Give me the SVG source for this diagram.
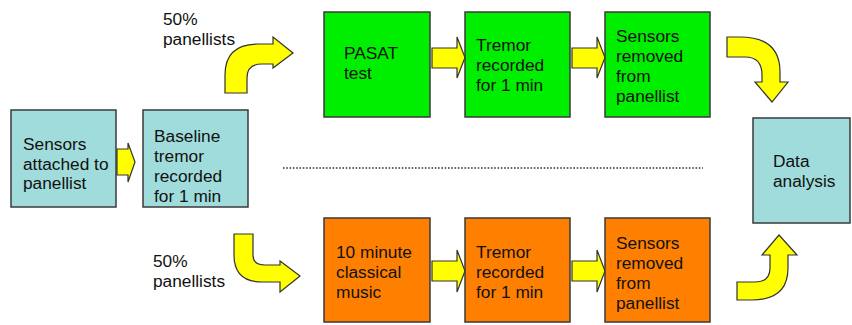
<svg xmlns="http://www.w3.org/2000/svg" width="852" height="325" viewBox="0 0 852 325">
  <style>
    .box { stroke: #3a3a3a; stroke-width: 1.5; }
    .teal { fill: #a0dcdc; }
    .green { fill: #00ee00; }
    .orange { fill: #ff8000; }
    .arrow { fill: #ffff00; stroke: #333333; stroke-width: 1.2; stroke-linejoin: miter; }
    text { font-family: "Liberation Sans", Arial, sans-serif; font-size: 17.3px; fill: #111111; }
    .dots { stroke: #333333; stroke-width: 1.6; stroke-dasharray: 1.6 1.7; fill: none; }
  </style>
  <rect width="852" height="325" fill="#ffffff"/>

  <!-- connectors: block arrows and the dotted separator -->
  <g id="connectors">
    <path class="arrow" d="M117,149 L128,149 L128,143 L135,162 L128,182 L128,175 L117,175 Z"/>
    <path class="arrow" d="M432,48 L457,48 L457,37 L465,57.5 L457,78 L457,68 L432,68 Z"/>
    <path class="arrow" d="M572,48 L597,48 L597,37 L605,57.5 L597,78 L597,68 L572,68 Z"/>
    <path class="arrow" d="M432,261 L457,261 L457,250 L465,271 L457,292 L457,281 L432,281 Z"/>
    <path class="arrow" d="M572,261 L597,261 L597,250 L605,271 L597,292 L597,281 L572,281 Z"/>
    <path class="arrow" d="M225,93 L225,75 Q225,44 258,44 L273,44 L273,37 L293,53 L273,68 L273,64 L262,64 Q247,64 247,78 L247,93 Z"/>
    <path class="arrow" d="M234,234 L253,234 L253,255 Q253,265 265,265 L280,265 L280,261 L300,276 L280,292 L280,282 L262,282 Q234,282 234,255 Z"/>
    <path class="arrow" d="M727,37 L740,37 Q780,37 780,72 L780,82 L788,82 L772,102 L755,82 L762,82 L762,75 Q762,57 745,57 L727,57 Z"/>
    <path class="arrow" d="M737,282 L755,282 Q770,282 770,268 L770,255 L762,255 L779,235 L797,255 L788,255 L788,268 Q788,300 752,300 L737,300 Z"/>
    <line class="dots" x1="283" y1="168" x2="703" y2="168"/>
  </g>

  <!-- branch labels -->
  <g id="label-top">
    <text x="163" y="25">50%</text>
    <text x="163" y="45">panellists</text>
  </g>
  <g id="label-bottom">
    <text x="153" y="267">50%</text>
    <text x="153" y="287">panellists</text>
  </g>

  <g id="sensors-attached">
    <rect class="box teal" x="11" y="110" width="105" height="97"/>
    <text x="23" y="150">Sensors</text>
    <text x="23" y="170">attached to</text>
    <text x="23" y="189">panellist</text>
  </g>

  <g id="baseline-tremor">
    <rect class="box teal" x="143" y="110" width="105" height="97"/>
    <text x="154" y="142">Baseline</text>
    <text x="154" y="162">tremor</text>
    <text x="154" y="182">recorded</text>
    <text x="154" y="202">for 1 min</text>
  </g>

  <g id="pasat-test">
    <rect class="box green" x="324" y="12" width="106" height="105"/>
    <text x="344" y="59">PASAT</text>
    <text x="344" y="79">test</text>
  </g>

  <g id="tremor-top">
    <rect class="box green" x="465" y="12" width="105" height="105"/>
    <text x="476" y="51">Tremor</text>
    <text x="476" y="71">recorded</text>
    <text x="476" y="91">for 1 min</text>
  </g>

  <g id="removed-top">
    <rect class="box green" x="605" y="12" width="105" height="105"/>
    <text x="616" y="42">Sensors</text>
    <text x="616" y="62">removed</text>
    <text x="616" y="82">from</text>
    <text x="616" y="102">panellist</text>
  </g>

  <g id="music">
    <rect class="box orange" x="324" y="218" width="106" height="104"/>
    <text x="336" y="258">10 minute</text>
    <text x="336" y="278">classical</text>
    <text x="336" y="298">music</text>
  </g>

  <g id="tremor-bottom">
    <rect class="box orange" x="465" y="218" width="105" height="104"/>
    <text x="476" y="258">Tremor</text>
    <text x="476" y="278">recorded</text>
    <text x="476" y="298">for 1 min</text>
  </g>

  <g id="removed-bottom">
    <rect class="box orange" x="605" y="218" width="105" height="104"/>
    <text x="616" y="249">Sensors</text>
    <text x="616" y="269">removed</text>
    <text x="616" y="289">from</text>
    <text x="616" y="309">panellist</text>
  </g>

  <g id="data-analysis">
    <rect class="box teal" x="753" y="118" width="97" height="105"/>
    <text x="773" y="167">Data</text>
    <text x="773" y="187">analysis</text>
  </g>
</svg>
